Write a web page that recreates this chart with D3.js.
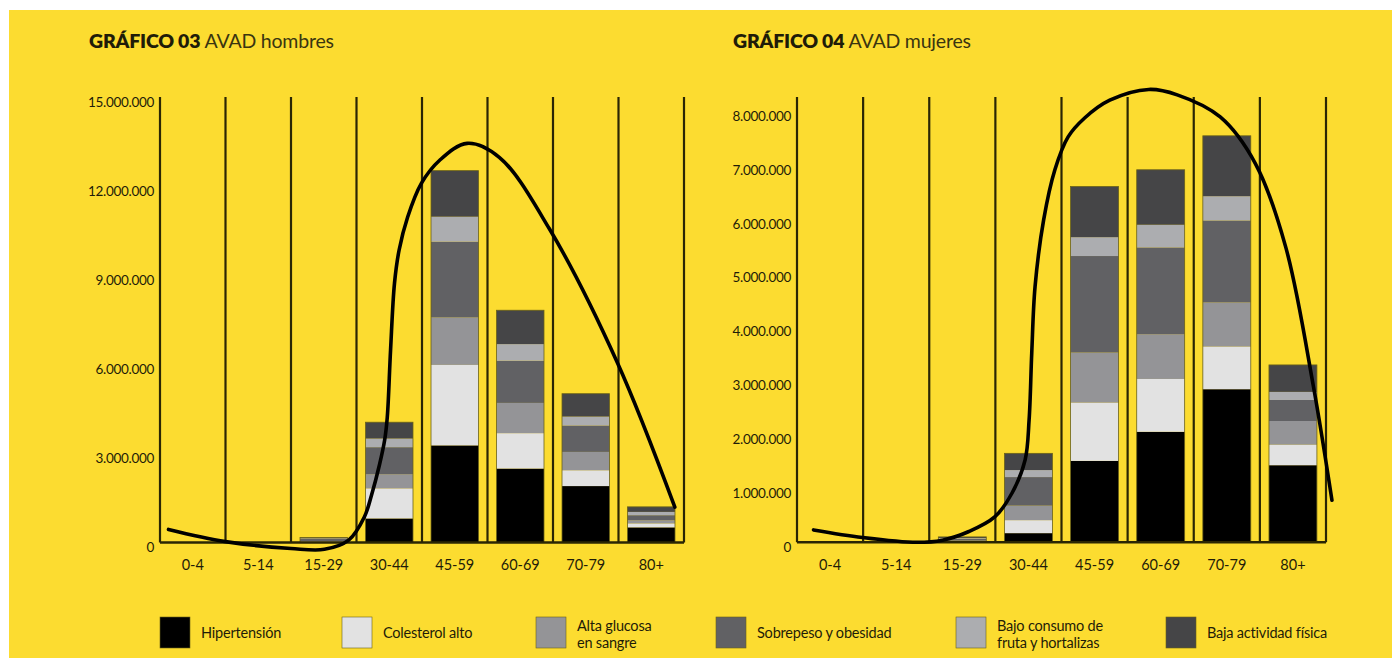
<!DOCTYPE html>
<head>
<meta charset="UTF-8">
<title>AVAD hombres y mujeres</title>
<style>
body { margin: 0; background: #fff; }
text { font-family: Lato, "Open Sans", sans-serif; fill: #1f1c08; }
.tick-label { font-size: 13.5px; }
.cat-label { font-size: 14.5px; }
.legend text { font-size: 14.5px; }
.grid { stroke: #2a2604; stroke-width: 2.2px; }
.base { stroke: #2a2604; stroke-width: 2.6px; }
.trend { fill: none; stroke: #000; stroke-width: 3.6px; stroke-linecap: round; }
</style>
</head>
<body>
<script src="https://cdn.jsdelivr.net/npm/d3@7"></script>
<script>

// age groups (x axis)
var categories = ["0-4", "5-14", "15-29", "30-44", "45-59", "60-69", "70-79", "80+"];

// risk factors, bottom to top of each stack
var seriesNames = ["Hipertensión", "Colesterol alto", "Alta glucosa en sangre",
                   "Sobrepeso y obesidad", "Bajo consumo de fruta y hortalizas", "Baja actividad física"];
var seriesColors = ["#000000", "#e2e2e2", "#949497", "#616164", "#acadb0", "#454547"];

// GRÁFICO 03 - hombres, AVAD in millions, one array per risk factor
var hombresHipertension = [0, 0, 0.02, 0.81, 3.27, 2.49, 1.90, 0.51];
var hombresColesterol   = [0, 0, 0.01, 1.01, 2.71, 1.19, 0.53, 0.13];
var hombresGlucosa      = [0, 0, 0.02, 0.48, 1.60, 1.02, 0.62, 0.11];
var hombresSobrepeso    = [0, 0, 0.07, 0.91, 2.55, 1.42, 0.89, 0.17];
var hombresFruta        = [0, 0, 0.02, 0.29, 0.84, 0.56, 0.30, 0.11];
var hombresActividad    = [0, 0, 0.03, 0.55, 1.55, 1.14, 0.77, 0.17];

// GRÁFICO 04 - mujeres, AVAD in millions
var mujeresHipertension = [0, 0, 0.01, 0.17, 1.51, 2.05, 2.84, 1.43];
var mujeresColesterol   = [0, 0, 0.01, 0.24, 1.08, 0.98, 0.79, 0.38];
var mujeresGlucosa      = [0, 0, 0.01, 0.27, 0.93, 0.83, 0.82, 0.44];
var mujeresSobrepeso    = [0, 0, 0.04, 0.53, 1.79, 1.61, 1.52, 0.39];
var mujeresFruta        = [0, 0, 0.01, 0.13, 0.35, 0.42, 0.45, 0.15];
var mujeresActividad    = [0, 0, 0.02, 0.31, 0.94, 1.02, 1.12, 0.50];

// hand drawn trend curve: position in age-group units (0 = centre of "0-4"), value in millions
var hombresCurveX = [-0.37, 0.50, 1.50, 2.01, 2.38, 2.62, 2.73, 2.85, 2.93, 2.97, 3.02, 3.08, 3.15, 3.28, 3.49, 3.77, 4.19, 4.68, 5.44, 6.48, 7.36];
var hombresCurveY = [0.44, 0.03, -0.20, -0.23, 0.08, 0.86, 1.60, 2.61, 3.45, 4.22, 6.48, 8.73, 9.84, 10.95, 12.09, 12.87, 13.44, 12.97, 10.58, 6.07, 1.19];
var mujeresCurveX = [-0.25, 0.49, 1.31, 1.70, 2.10, 2.49, 2.75, 2.95, 3.01, 3.05, 3.10, 3.23, 3.40, 3.60, 3.85, 4.23, 4.82, 5.25, 5.90, 6.43, 6.89, 7.31, 7.59];
var mujeresCurveY = [0.23, 0.09, 0.00, 0.04, 0.20, 0.47, 0.91, 1.53, 2.27, 3.51, 4.74, 5.98, 6.91, 7.52, 7.87, 8.20, 8.40, 8.30, 7.89, 7.03, 5.48, 2.89, 0.78];

// y tick values
var hombresTicks = [0, 3e6, 6e6, 9e6, 12e6, 15e6];
var mujeresTicks = [0, 1e6, 2e6, 3e6, 4e6, 5e6, 6e6, 7e6, 8e6];

var es = d3.formatLocale({decimal: ",", thousands: ".", grouping: [3], currency: ["", ""]});
var fmt = es.format(",d");

var W = 1392, H = 658;

var svg = d3.select("body").append("svg")
    .attr("width", W)
    .attr("height", H);

// yellow page (the scan has a thin white margin top and left)
svg.append("rect")
    .attr("x", 9).attr("y", 10)
    .attr("width", W - 9).attr("height", H - 10)
    .attr("fill", "#fcdc30");

function buildRows(arrays) {
  return categories.map(function(c, i) {
    var row = {cat: c};
    seriesNames.forEach(function(s, k) { row[s] = arrays[k][i] * 1e6; });
    return row;
  });
}

function drawChart(opt) {
  var g = svg.append("g");

  var x = d3.scaleBand()
      .domain(categories)
      .range([opt.x0, opt.x1])
      .paddingInner(0.275)
      .paddingOuter(0.1375);

  var y = d3.scaleLinear()
      .domain([0, opt.yMax])
      .range([opt.y0, 97]);

  // position scale for the trend curve (category index -> pixel)
  var xc = d3.scaleLinear()
      .domain([0, 1])
      .range([x(categories[0]) + x.bandwidth() / 2, x(categories[1]) + x.bandwidth() / 2]);

  // title
  var t = g.append("text")
      .attr("x", opt.titleX)
      .attr("y", 48)
      .style("font-size", "19.5px");
  t.append("tspan").style("font-weight", 800).style("letter-spacing", "-0.2px").text(opt.titleBold);
  t.append("tspan").style("font-weight", 400).style("fill", "#3a3510").style("letter-spacing", "-0.2px").text(" " + opt.titleRest);

  // vertical separators between age groups
  var gap = (x.step() - x.bandwidth()) / 2;
  var bounds = categories.map(function(c) { return x(c) - gap; });
  bounds.push(opt.x1);

  g.selectAll("line.grid")
    .data(bounds)
    .enter().append("line")
      .attr("class", "grid")
      .attr("x1", function(d) { return d; })
      .attr("x2", function(d) { return d; })
      .attr("y1", y(opt.yMax))
      .attr("y2", opt.y0);

  // stacked bars
  var rows = buildRows(opt.values);
  var stack = d3.stack().keys(seriesNames)(rows);

  var layer = g.selectAll("g.layer")
    .data(stack)
    .enter().append("g")
      .attr("class", "layer")
      .attr("fill", function(d, i) { return seriesColors[i]; });

  layer.selectAll("rect")
    .data(function(d) { return d; })
    .enter().append("rect")
      .attr("x", function(d) { return x(d.data.cat); })
      .attr("width", x.bandwidth())
      .attr("y", function(d) { return y(d[1]); })
      .attr("height", function(d) { return y(d[0]) - y(d[1]); });

  // faint outline round each stack
  var top = stack[stack.length - 1];
  g.selectAll("rect.outline")
    .data(top.filter(function(d) { return d[1] > 0; }))
    .enter().append("rect")
      .attr("class", "outline")
      .attr("x", function(d) { return x(d.data.cat); })
      .attr("width", x.bandwidth())
      .attr("y", function(d) { return y(d[1]); })
      .attr("height", function(d) { return opt.y0 - y(d[1]); })
      .attr("fill", "none")
      .attr("stroke", "#6a6118")
      .attr("stroke-width", 0.8);

  // baseline
  g.append("line")
      .attr("class", "base")
      .attr("x1", opt.x0).attr("x2", opt.x1)
      .attr("y1", opt.y0).attr("y2", opt.y0);

  // y tick labels (sit a little low, like the original)
  g.selectAll("text.tick-label")
    .data(opt.ticks)
    .enter().append("text")
      .attr("class", "tick-label")
      .attr("x", opt.x0 - 6)
      .attr("y", function(d) { return y(d) + 5; })
      .attr("dy", "0.35em")
      .attr("text-anchor", "end")
      .style("letter-spacing", "-0.3px")
      .text(function(d) { return fmt(d); });

  // x labels
  g.selectAll("text.cat-label")
    .data(categories)
    .enter().append("text")
      .attr("class", "cat-label")
      .attr("x", function(d) { return x(d) + x.bandwidth() / 2; })
      .attr("y", 570)
      .attr("text-anchor", "middle")
      .text(function(d) { return d; });

  // trend curve
  var pts = opt.curveX.map(function(v, i) { return [v, opt.curveY[i] * 1e6]; });
  var line = d3.line()
      .x(function(d) { return xc(d[0]); })
      .y(function(d) { return y(d[1]); })
      .curve(d3.curveCatmullRom.alpha(0.5));

  g.append("path")
      .attr("class", "trend")
      .attr("d", line(pts));
}

drawChart({
  x0: 160, x1: 684, y0: 542.5, yMax: 15e6,
  ticks: hombresTicks,
  titleX: 89, titleBold: "GRÁFICO 03", titleRest: "AVAD hombres",
  values: [hombresHipertension, hombresColesterol, hombresGlucosa, hombresSobrepeso, hombresFruta, hombresActividad],
  curveX: hombresCurveX, curveY: hombresCurveY
});

drawChart({
  x0: 797, x1: 1326, y0: 542.3, yMax: 8.26e6,
  ticks: mujeresTicks,
  titleX: 733, titleBold: "GRÁFICO 04", titleRest: "AVAD mujeres",
  values: [mujeresHipertension, mujeresColesterol, mujeresGlucosa, mujeresSobrepeso, mujeresFruta, mujeresActividad],
  curveX: mujeresCurveX, curveY: mujeresCurveY
});

// ****************** legend ***************************
var legendX = [160, 342, 536, 716, 956, 1166];
var legendLines = [["Hipertensión"], ["Colesterol alto"], ["Alta glucosa", "en sangre"],
                   ["Sobrepeso y obesidad"], ["Bajo consumo de", "fruta y hortalizas"], ["Baja actividad física"]];

var legend = svg.selectAll("g.legend")
  .data(seriesNames)
  .enter().append("g")
    .attr("class", "legend")
    .attr("transform", function(d, i) { return "translate(" + legendX[i] + ",617)"; });

legend.append("rect")
    .attr("width", 30)
    .attr("height", 31)
    .attr("fill", function(d, i) { return seriesColors[i]; })
    .attr("stroke", "#6a6118")
    .attr("stroke-width", 0.6);

legend.each(function(d, i) {
  var lines = legendLines[i];
  var txt = d3.select(this).append("text")
      .attr("x", 41)
      .style("letter-spacing", "-0.2px");
  lines.forEach(function(l, k) {
    txt.append("tspan")
        .attr("x", 41)
        .attr("y", lines.length === 1 ? 21 : 13.5 + k * 17)
        .text(l);
  });
});

</script>
</body>
